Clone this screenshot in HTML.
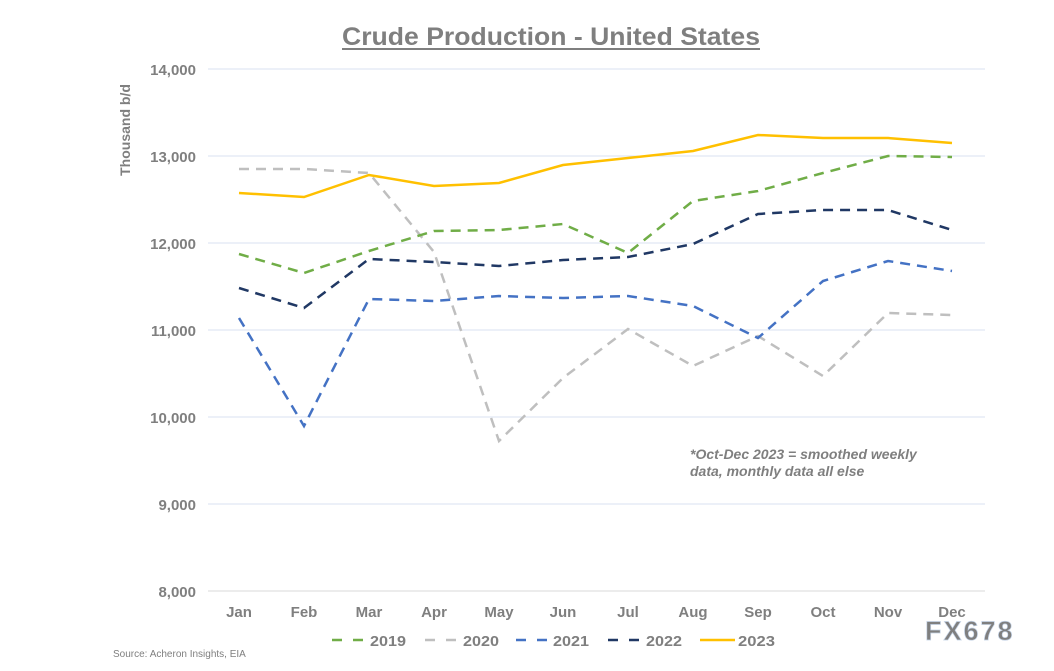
<!DOCTYPE html>
<html><head><meta charset="utf-8"><style>
body{margin:0;background:#fff;}
svg text{font-family:"Liberation Sans",Arial,sans-serif;font-weight:bold;fill:#7f7f7f;}
</style></head><body>
<svg width="1054" height="666" viewBox="0 0 1054 666" xmlns="http://www.w3.org/2000/svg">
<text x="551" y="45" font-size="25" text-anchor="middle" fill="#7f7f7f" textLength="418" lengthAdjust="spacingAndGlyphs">Crude Production - United States</text>
<line x1="342" y1="49" x2="760" y2="49" stroke="#7f7f7f" stroke-width="2"/>
<g stroke="#d9e2f0" stroke-width="1">
<line x1="208" y1="69" x2="985" y2="69"/><line x1="208" y1="156" x2="985" y2="156"/>
<line x1="208" y1="243" x2="985" y2="243"/><line x1="208" y1="330" x2="985" y2="330"/>
<line x1="208" y1="417" x2="985" y2="417"/><line x1="208" y1="504" x2="985" y2="504"/>
<line x1="208" y1="591" x2="985" y2="591" stroke="#d9d9d9"/>
</g>
<g font-size="15" text-anchor="end">
<text x="196" y="75">14,000</text><text x="196" y="162">13,000</text><text x="196" y="249">12,000</text>
<text x="196" y="336">11,000</text><text x="196" y="423">10,000</text><text x="196" y="510">9,000</text><text x="196" y="597">8,000</text>
</g>
<text transform="translate(130,130) rotate(-90)" font-size="14" text-anchor="middle">Thousand b/d</text>
<g font-size="15" text-anchor="middle">
<text x="239" y="617">Jan</text><text x="304" y="617">Feb</text><text x="369" y="617">Mar</text><text x="434" y="617">Apr</text>
<text x="499" y="617">May</text><text x="563" y="617">Jun</text><text x="628" y="617">Jul</text><text x="693" y="617">Aug</text>
<text x="758" y="617">Sep</text><text x="823" y="617">Oct</text><text x="888" y="617">Nov</text><text x="952" y="617">Dec</text>
</g>
<g fill="none" stroke-width="2.5">
<polyline stroke="#bfbfbf" stroke-dasharray="10,7" points="239,169 304,169 369,173 434,252 499,441 563,378 628,329 693,366 758,336 823,376 888,313 952,315"/>
<polyline stroke="#4472c4" stroke-dasharray="10,7" points="239,318 304,426 369,299 434,301 499,296 563,298 628,296 693,306 758,338 823,281 888,261 952,271"/>
<polyline stroke="#203864" stroke-dasharray="10,7" points="239,288 304,308 369,259 434,262 499,266 563,260 628,257 693,244 758,214 823,210 888,210 952,230"/>
<polyline stroke="#70ad47" stroke-dasharray="10,7" points="239,254 304,273 369,251 434,231 499,230 563,224 628,253 693,201 758,191 823,173 888,156 952,157"/>
<polyline stroke="#ffc000" points="239,193 304,197 369,175 434,186 499,183 563,165 628,158 693,151 758,135 823,138 888,138 952,143"/>
</g>
<text x="690" y="459" font-size="14" font-style="italic">*Oct-Dec 2023 = smoothed weekly</text>
<text x="690" y="476" font-size="14" font-style="italic">data, monthly data all else</text>
<g stroke-width="2.5">
<line x1="332" y1="640" x2="363" y2="640" stroke="#70ad47" stroke-dasharray="10,11"/>
<line x1="425" y1="640" x2="456" y2="640" stroke="#bfbfbf" stroke-dasharray="10,11"/>
<line x1="516" y1="640" x2="547" y2="640" stroke="#4472c4" stroke-dasharray="10,11"/>
<line x1="608" y1="640" x2="639" y2="640" stroke="#203864" stroke-dasharray="10,11"/>
<line x1="700" y1="640" x2="735" y2="640" stroke="#ffc000"/>
</g>
<g font-size="15">
<text x="370" y="646" textLength="36" lengthAdjust="spacingAndGlyphs">2019</text><text x="463" y="646" textLength="36" lengthAdjust="spacingAndGlyphs">2020</text><text x="553" y="646" textLength="36" lengthAdjust="spacingAndGlyphs">2021</text>
<text x="646" y="646" textLength="36" lengthAdjust="spacingAndGlyphs">2022</text><text x="738" y="646" textLength="37" lengthAdjust="spacingAndGlyphs">2023</text>
</g>
<text x="113" y="657" font-size="10" fill="#bfbfbf" style="font-weight:normal">Source: Acheron Insights, EIA</text>
<text x="925" y="640" font-size="27" fill="#e4ebf5" stroke="#c5d3e6" stroke-width="0.7" letter-spacing="2">FX678</text>
</svg>
</body></html>
